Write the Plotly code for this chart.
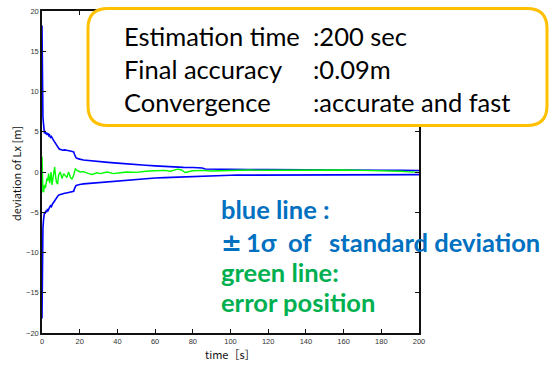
import plotly.graph_objects as go

# ---- data -------------------------------------------------------------
# +1 sigma envelope (upper blue line)
t_upper = [0, 0.15, 0.3, 0.5, 0.8, 1.0, 1.3, 1.6, 2.0, 2.4, 2.8, 3.2, 3.6, 4.0, 4.5,
           5.0, 5.5, 6.0, 6.5, 7.0, 7.5, 8.0, 8.5, 9.0, 9.5, 10, 11, 12, 13, 14, 15,
           16, 16.8, 17.2, 17.6, 18.0, 18.5, 19, 20, 22, 25, 28, 31, 35, 40, 45, 50,
           55, 60, 65, 70, 75, 80, 85, 86.6, 90, 95, 100, 103, 110, 120, 130, 140,
           150, 160, 172, 173, 180, 190, 200]
sigma_upper = [18.2, 12, 8.1, 6.8, 6.0, 5.2, 4.8, 5.1, 4.7, 4.9, 4.6, 4.8, 4.5, 4.6, 4.3,
               4.4, 4.1, 4.0, 3.8, 3.6, 3.4, 3.2, 3.1, 2.9, 2.8, 2.8, 2.7, 2.75, 2.7, 2.6, 2.6,
               2.55, 2.5, 2.2, 1.9, 1.8, 1.7, 1.65, 1.6, 1.5, 1.45, 1.35, 1.3, 1.2, 1.1, 0.98, 0.9,
               0.83, 0.76, 0.68, 0.63, 0.58, 0.55, 0.5, 0.38, 0.36, 0.34, 0.32, 0.3, 0.3, 0.3, 0.3, 0.3,
               0.3, 0.29, 0.29, 0.22, 0.21, 0.2, 0.19]

# -1 sigma envelope (lower blue line), same time stamps
sigma_lower = [-18.2, -12, -8.3, -7.0, -6.0, -5.4, -5.0, -5.2, -4.8, -5.0, -4.7, -4.8, -4.5, -4.4, -4.2,
               -4.3, -4.0, -3.8, -3.6, -3.5, -3.3, -3.1, -2.95, -2.85, -2.8, -2.75, -2.7, -2.65, -2.6, -2.55, -2.5,
               -2.45, -2.4, -2.1, -1.8, -1.7, -1.65, -1.6, -1.55, -1.48, -1.42, -1.35, -1.28, -1.18, -1.08, -0.98, -0.9,
               -0.82, -0.75, -0.7, -0.65, -0.58, -0.55, -0.5, -0.45, -0.43, -0.42, -0.4, -0.39, -0.39, -0.39, -0.39, -0.39,
               -0.38, -0.38, -0.38, -0.3, -0.3, -0.3, -0.32]

# position error (green line)
t_err = [0, 0.1, 0.3, 0.5, 0.9, 1.3, 1.8, 2.2, 2.6, 3.0, 3.5, 4.1, 4.8, 5.3, 5.8, 6.2,
         6.7, 7.1, 7.6, 8.3, 8.8, 9.7, 10.6, 11.5, 12.3, 13.2, 14.1, 15.0, 15.9, 16.8,
         17.7, 18.6, 20.3, 22.1, 24.8, 26.5, 29.2, 31, 34.5, 38, 41.5, 45, 50, 55, 60,
         65, 68, 70, 72, 74, 76, 80, 85, 90, 100, 110, 120, 130, 140, 150, 160, 170,
         180, 190, 195, 200]
err = [1.9, 0.5, -1.5, -2.5, -2.4, -1.6, -2.0, -1.2, -0.8, -1.1, -0.2, -1.4, 0.0, -1.6, -0.6, 0.4,
       0.6, -0.3, -1.2, -1.5, -0.4, 0.0, -0.8, -0.2, -0.4, -0.7, 0.0, -0.6, -0.9, -0.4,
       0.4, 0.2, 0.0, 0.05, -0.2, -0.3, -0.1, -0.2, 0.0, -0.2, -0.1, 0.0, -0.05, 0.1, 0.15,
       0.2, 0.1, 0.2, 0.35, 0.25, -0.06, 0.15, 0.2, 0.12, 0.2, 0.24, 0.22, 0.25, 0.24, 0.22, 0.25, 0.2,
       0.18, 0.1, 0.02, -0.05]

x_ticks = [0, 20, 40, 60, 80, 100, 120, 140, 160, 180, 200]
y_ticks = [-20, -15, -10, -5, 0, 5, 10, 15, 20]

summary_labels = ["Estimation time", "Final accuracy", "Convergence"]
summary_values = [":200 sec", ":0.09m", ":accurate and fast"]

# ---- layout helpers ---------------------------------------------------
W, H = 549, 365
ML, MR, MT, MB = 42, 130, 7, 32
PW, PH = W - ML - MR, H - MT - MB


def px(x):
    return (x - ML) / PW


def py(y):
    return (H - MB - y) / PH


def rounded_rect(x0, y0, x1, y1, r):
    pts = [
        ("M", [(x0 + r, y0)]), ("L", [(x1 - r, y0)]), ("Q", [(x1, y0), (x1, y0 + r)]),
        ("L", [(x1, y1 - r)]), ("Q", [(x1, y1), (x1 - r, y1)]),
        ("L", [(x0 + r, y1)]), ("Q", [(x0, y1), (x0, y1 - r)]),
        ("L", [(x0, y0 + r)]), ("Q", [(x0, y0), (x0 + r, y0)]),
    ]
    s = ""
    for cmd, coords in pts:
        s += cmd + " " + " ".join(f"{px(a):.5f},{py(b):.5f}" for a, b in coords) + " "
    return s + "Z"


def label(text, x, y, size, color, family="Lato", bold=False, **kw):
    fig.add_annotation(x=px(x), y=py(y), xref="paper", yref="paper", text=text,
                       showarrow=False, xanchor=kw.pop("xanchor", "left"),
                       yanchor="middle",
                       font=dict(family=family, size=size, color=color,
                                 weight="bold" if bold else "normal"), **kw)


fig = go.Figure()
fig.add_trace(go.Scatter(x=t_upper, y=sigma_upper, mode="lines",
                         line=dict(color="#0000FF", width=1.6), showlegend=False))
fig.add_trace(go.Scatter(x=t_upper, y=sigma_lower, mode="lines",
                         line=dict(color="#0000FF", width=1.6), showlegend=False))
fig.add_trace(go.Scatter(x=t_err, y=err, mode="lines",
                         line=dict(color="#00FF00", width=1.4), showlegend=False))

axis_common = dict(showline=True, linecolor="#111111", linewidth=1.5, mirror="ticks",
                   ticks="inside", ticklen=4, tickwidth=1, tickcolor="#111111",
                   showgrid=False, zeroline=False,
                   tickfont=dict(family="Liberation Sans", size=7.5, color="#333333"))

fig.update_layout(
    width=W, height=H,
    margin=dict(l=ML, r=MR, t=MT, b=MB),
    paper_bgcolor="white", plot_bgcolor="white",
    xaxis=dict(range=[0, 200], tickvals=x_ticks, **axis_common),
    yaxis=dict(range=[-20, 20], tickvals=y_ticks, **axis_common),
)

# summary panel
fig.add_shape(type="path", xref="paper", yref="paper", layer="above",
              path=rounded_rect(88, 4.5, 547, 123, 20),
              line=dict(color="#FFC000", width=3), fillcolor="white")

rows_y = [32, 66, 99]
for lab, val, yy in zip(summary_labels, summary_values, rows_y):
    label(lab, 122, yy, 25.5, "black")
    label(val, 311, yy, 25.5, "black")

# line descriptions
blue = "#0070C0"
green = "#00B050"
label("blue line :", 219, 207, 25.5, blue, bold=True)
label("±", 219, 241, 25, blue, family="DejaVu Sans", bold=True)
label("1σ", 244, 241, 25.5, blue, bold=True)
label("of", 286, 241, 25.5, blue, bold=True)
label("standard deviation", 327, 241, 25.5, blue, bold=True)
label("green line:", 219, 271, 25.5, green, bold=True)
label("error position", 219, 302, 25.5, green, bold=True)

# axis titles
label("deviation of Lx [m]", 16, 172, 11, "#111111", family="Noto Sans CJK JP",
      xanchor="center", textangle=-90)
label("time［s］", 230, 354, 11, "#111111", family="Noto Sans CJK JP",
      xanchor="center")

fig.write_html("out.html")
